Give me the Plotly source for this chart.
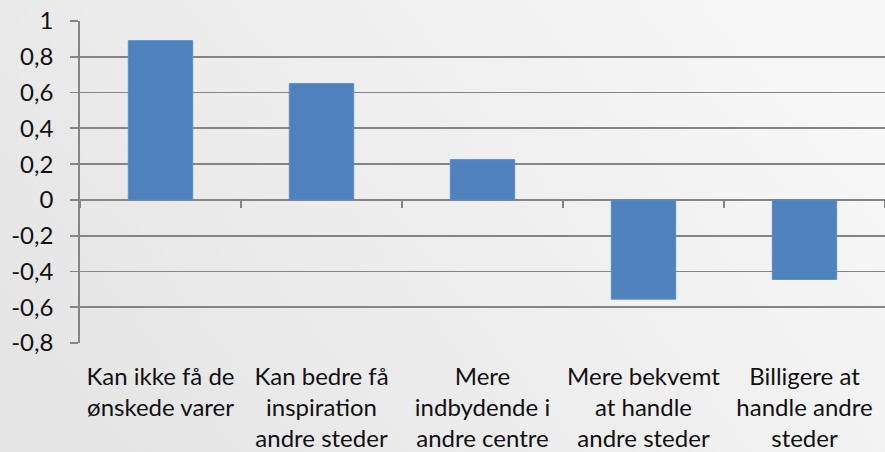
import base64
import plotly.graph_objects as go

categories = [
    "Kan ikke få de<br>ønskede varer",
    "Kan bedre få<br>inspiration<br>andre steder",
    "Mere<br>indbydende i<br>andre centre",
    "Mere bekvemt<br>at handle<br>andre steder",
    "Billigere at<br>handle andre<br>steder",
]
values = [0.89, 0.65, 0.225, -0.555, -0.445]
y_tickvals = [-0.8, -0.6, -0.4, -0.2, 0, 0.2, 0.4, 0.6, 0.8, 1]
y_ticktext = ["-0,8", "-0,6", "-0,4", "-0,2", "0", "0,2", "0,4", "0,6", "0,8", "1"]

W, H = 885, 452
ML, MR, MT, MB = 80, 0, 21, 109
PW, PH = W - ML - MR, H - MT - MB
y_min, y_max = -0.8, 1.0

grid_c = "#858585"
font_family = "Lato, 'Open Sans', sans-serif"

svg = (
    '<svg xmlns="http://www.w3.org/2000/svg" width="885" height="452" preserveAspectRatio="none">'
    '<defs><linearGradient id="g" x1="0" y1="0.7" x2="1" y2="0.3">'
    '<stop offset="0" stop-color="#e5e5e5"/><stop offset="1" stop-color="#f7f7f7"/>'
    '</linearGradient></defs><rect width="885" height="452" fill="url(#g)"/></svg>'
)
bg_src = "data:image/svg+xml;base64," + base64.b64encode(svg.encode()).decode()

fig = go.Figure()
fig.add_trace(go.Bar(
    x=categories, y=values, width=0.4,
    marker=dict(color="#4F81BD", line=dict(color="#5d8cc6", width=1)),
    hoverinfo="skip",
))
fig.add_trace(go.Scatter(
    x=categories, y=[None] * len(categories), xaxis="x2", yaxis="y",
    showlegend=False, hoverinfo="skip",
))

fig.update_layout(
    width=W, height=H,
    margin=dict(l=ML, r=MR, t=MT, b=MB, pad=0),
    paper_bgcolor="#eeeeee",
    plot_bgcolor="rgba(0,0,0,0)",
    showlegend=False,
    font=dict(family=font_family, size=24, color="#111111"),
    images=[dict(
        source=bg_src, xref="paper", yref="paper",
        x=-ML / PW, y=1 + MT / PH, sizex=W / PW, sizey=H / PH,
        xanchor="left", yanchor="top", sizing="stretch", layer="below",
    )],
    xaxis=dict(
        type="category", showgrid=False, showline=False, zeroline=False,
        ticks="", ticklabelstandoff=17, tickfont=dict(size=24),
        range=[-0.5, len(categories) - 0.5],
    ),
    xaxis2=dict(
        type="category", overlaying="x", matches="x", anchor="free",
        position=(0 - y_min) / (y_max - y_min), side="bottom",
        showgrid=False, showline=False, zeroline=False,
        ticks="outside", ticklen=7, tickwidth=1.8, tickcolor=grid_c,
        tickson="boundaries", showticklabels=False,
    ),
    yaxis=dict(
        range=[y_min, y_max], tickvals=y_tickvals, ticktext=y_ticktext,
        showgrid=True, gridcolor=grid_c, gridwidth=1.8,
        zeroline=True, zerolinecolor=grid_c, zerolinewidth=1.8,
        showline=True, linecolor=grid_c, linewidth=1.8,
        ticks="outside", ticklen=8, tickwidth=1.8, tickcolor=grid_c,
        ticklabelstandoff=12, tickfont=dict(size=24),
    ),
)

fig.write_html(
    "out.html",
    config={"displayModeBar": False, "staticPlot": True},
    post_script="document.body.style.margin='0';",
)
